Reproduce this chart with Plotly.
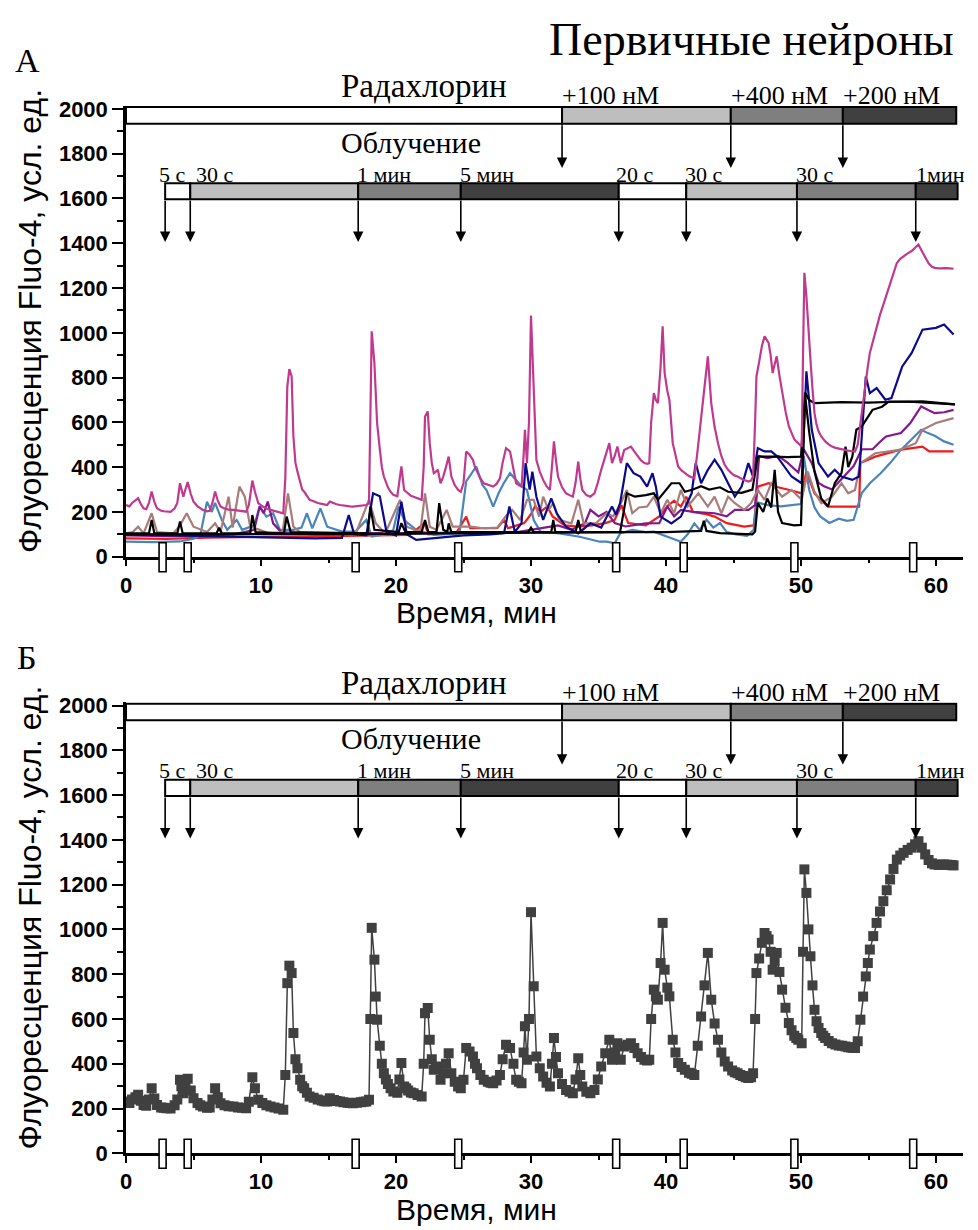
import plotly.graph_objects as go

W, H = 978, 1230

# ---------------- data (minutes, fluorescence units) ----------------
# magenta cell (shown in both panels), read as (time, value) pairs
MAG_POINTS = [
    (0.0, 231), (0.25, 225), (0.45, 240), (0.7, 250), (0.9, 261), (1.1, 235), (1.3, 216), (1.5, 212),
    (1.7, 240), (1.9, 291), (2.1, 245), (2.3, 216), (2.6, 205), (2.8, 203), (3.0, 201), (3.3, 200),
    (3.6, 215), (3.8, 240), (4.0, 328), (4.1, 300), (4.25, 268), (4.4, 300), (4.57, 333), (4.8, 280),
    (5.0, 246), (5.3, 225), (5.5, 215), (5.7, 209), (6.0, 203), (6.2, 205), (6.4, 240), (6.6, 291),
    (6.8, 250), (7.0, 224), (7.3, 215), (7.6, 210), (7.95, 209), (8.3, 205), (8.6, 203), (8.9, 201),
    (9.1, 230), (9.36, 340), (9.55, 290), (9.8, 239), (10.1, 225), (10.4, 215), (10.7, 209), (11.0, 205),
    (11.3, 200), (11.65, 194), (11.8, 350), (11.95, 760), (12.1, 838), (12.27, 805), (12.4, 537),
    (12.55, 420), (12.7, 380), (12.9, 328), (13.05, 300), (13.2, 290), (13.4, 270), (13.6, 254),
    (13.9, 248), (14.2, 240), (14.5, 236), (14.7, 233), (14.9, 231), (15.1, 246), (15.4, 238),
    (15.6, 234), (15.85, 231), (16.1, 228), (16.4, 226), (16.6, 225), (16.8, 224), (17.1, 226),
    (17.4, 228), (17.6, 230), (17.8, 231), (18.0, 239), (18.1, 600), (18.2, 1007), (18.4, 865),
    (18.5, 700), (18.6, 597), (18.8, 480), (18.95, 400), (19.1, 358), (19.25, 330), (19.4, 310),
    (19.6, 290), (19.8, 276), (20.1, 270), (20.25, 330), (20.4, 403), (20.6, 298), (20.75, 290),
    (20.9, 280), (21.1, 272), (21.3, 268), (21.6, 260), (21.9, 254), (22.05, 400), (22.15, 626),
    (22.35, 649), (22.5, 507), (22.65, 420), (22.8, 373), (22.95, 380), (23.1, 388), (23.3, 328),
    (23.5, 358), (23.7, 400), (23.9, 447), (24.1, 358), (24.35, 320), (24.6, 298), (24.8, 290),
    (25.0, 328), (25.2, 470), (25.45, 455), (25.7, 432), (25.85, 400), (26.0, 380), (26.25, 350),
    (26.5, 328), (26.8, 320), (27.0, 315), (27.2, 313), (27.45, 325), (27.7, 350), (27.9, 420),
    (28.15, 485), (28.45, 470), (28.7, 400), (28.9, 328), (29.1, 320), (29.3, 313), (29.45, 450),
    (29.55, 567), (29.7, 418), (29.85, 600), (30.0, 1077), (30.2, 746), (30.4, 432), (30.65, 380),
    (30.9, 343), (31.15, 315), (31.4, 298), (31.55, 400), (31.7, 515), (31.85, 430), (32.0, 358),
    (32.3, 310), (32.6, 283), (32.85, 275), (33.1, 268), (33.3, 330), (33.5, 425), (33.65, 350),
    (33.8, 298), (34.1, 275), (34.4, 268), (34.7, 283), (34.95, 330), (35.2, 388), (35.5, 447),
    (35.8, 507), (36.0, 418), (36.2, 450), (36.4, 492), (36.65, 418), (36.9, 477), (37.15, 485),
    (37.4, 492), (37.65, 470), (37.9, 447), (38.15, 430), (38.4, 418), (38.6, 415), (38.76, 418),
    (38.9, 600), (39.1, 731), (39.25, 700), (39.4, 686), (39.6, 850), (39.75, 1029), (39.9, 820),
    (40.1, 740), (40.25, 701), (40.5, 507), (40.7, 450), (40.9, 403), (41.15, 385), (41.4, 373),
    (41.7, 360), (41.9, 355), (42.1, 350), (42.35, 480), (42.6, 611), (42.85, 750), (43.1, 895),
    (43.35, 686), (43.6, 580), (43.85, 507), (44.1, 450), (44.35, 410), (44.6, 388), (44.9, 370),
    (45.1, 362), (45.3, 358), (45.5, 350), (45.7, 345), (45.9, 340), (46.1, 336), (46.3, 340),
    (46.45, 358), (46.6, 600), (46.7, 805), (46.9, 870), (47.1, 940), (47.3, 984), (47.45, 970),
    (47.6, 955), (47.75, 900), (47.9, 820), (48.05, 860), (48.2, 895), (48.4, 810), (48.6, 731),
    (48.85, 650), (49.1, 582), (49.3, 550), (49.5, 525), (49.65, 515), (49.8, 507), (50.05, 492),
    (50.15, 900), (50.25, 1268), (50.4, 1163), (50.55, 1000), (50.7, 880), (50.85, 750), (51.0, 641),
    (51.15, 590), (51.3, 560), (51.5, 537), (51.65, 525), (51.8, 515), (52.05, 502), (52.3, 492),
    (52.55, 486), (52.8, 482), (53.05, 480), (53.3, 477), (53.5, 474), (53.7, 472), (53.85, 471),
    (54.0, 470), (54.2, 500), (54.4, 597), (54.6, 700), (54.8, 790), (54.95, 850), (55.1, 910),
    (55.35, 970), (55.6, 1029), (55.85, 1080), (56.1, 1126), (56.35, 1175), (56.6, 1223),
    (56.85, 1270), (57.1, 1312), (57.35, 1330), (57.6, 1342), (57.9, 1355), (58.2, 1365),
    (58.45, 1380), (58.7, 1394), (58.95, 1365), (59.2, 1335), (59.45, 1310), (59.7, 1295),
    (59.9, 1290), (60.2, 1288), (60.4, 1289), (60.6, 1290), (60.8, 1289), (61.0, 1288),
    (61.15, 1287), (61.3, 1286),
]
MAG_T = [p[0] for p in MAG_POINTS]
MAG_V = [p[1] for p in MAG_POINTS]

NAVY_T = [0, 2, 4, 6, 8, 10, 12, 14, 16, 16.5, 16.9, 17.8, 18.3, 18.8, 19.3, 20.0, 20.4, 20.8, 21.5, 23, 25, 27,
          28.0, 28.4, 28.8, 29.3, 29.6, 29.9, 30.1, 30.4, 30.9, 31.5, 31.9, 32.6, 33.5, 34.4, 35.2, 36.0, 36.3,
          36.6, 37.1, 37.6, 38.1, 38.6, 39.0, 39.25, 39.6, 40.4, 41.1, 41.9, 42.2, 42.6, 43.1, 43.6, 44.1, 44.6,
          45.1, 45.6, 46.1, 46.45, 46.8, 47.3, 47.8, 48.2, 48.6, 49.3, 50.05, 50.4, 50.8, 51.3, 52.0, 52.5, 53.0,
          53.8, 54.3, 54.8, 55.1, 55.6, 56.25, 56.7, 57.5, 58.2, 59.0, 60.0, 60.6, 61.3]
NAVY_V = [100, 97, 95, 92, 90, 88, 85, 82, 84, 186, 100, 95, 283, 270, 110, 95, 246, 100, 75, 85, 95, 100,
          105, 224, 110, 150, 418, 300, 380, 268, 164, 261, 194, 134, 104, 149, 130, 224, 187,
          239, 418, 373, 358, 313, 373, 313, 179, 149, 179, 283, 418, 328, 388, 433, 388, 328,
          268, 313, 418, 358, 485, 470, 470, 450, 418, 358, 328, 828, 567, 418, 358, 388, 358,
          343, 358, 805, 731, 753, 701, 708, 850, 910, 1014, 1022, 1037, 992]

BLACK1_T = [0, 5, 10, 15, 20, 25, 30, 33, 36.6, 37.1, 37.7, 38.5, 39.1, 39.4, 40.0, 40.4, 41.0, 41.4, 42.0, 42.6,
            43.2, 44.0, 44.6, 45.6, 46.4, 46.8, 48.0, 49.0, 50.0, 50.3, 50.6, 51.0, 53, 55, 57, 59, 61.4]
BLACK1_V = [100, 100, 100, 100, 102, 105, 107, 108, 110, 283, 268, 275, 283, 254, 300, 328, 328, 290, 300, 315,
            300, 310, 290, 285, 300, 447, 447, 445, 447, 733, 700, 686, 690, 688, 692, 694, 680]

BLACK2_T = [0, 1.7, 1.9, 2.1, 3.8, 4.0, 4.2, 6.7, 6.9, 7.1, 9.2, 9.36, 9.6, 11.7, 11.9, 12.2, 17.9, 18.1, 18.4,
            20.2, 20.4, 20.7, 21.9, 22.15, 22.4, 23.0, 23.2, 23.5, 23.8, 23.9, 24.1, 29.8, 30.0, 30.2, 31.5,
            31.65, 31.8, 33.3, 33.5, 33.7, 36, 40, 42.6, 42.8, 43.0, 44, 46.4, 46.6, 46.8, 47.2, 47.5, 47.8,
            48.05, 48.3, 48.6, 49.5, 50.0, 50.3, 50.6, 51.0, 51.5, 52.0, 52.5, 53.0, 53.3, 53.5, 53.8, 54.1,
            54.5, 55.3, 56.0, 56.5, 58, 60, 61.4]
BLACK2_V = [104, 104, 164, 104, 104, 157, 104, 104, 130, 104, 104, 186, 110, 104, 179, 110, 104, 224, 120,
            110, 150, 110, 110, 164, 110, 110, 239, 120, 110, 149, 110, 110, 130, 110, 110,
            164, 110, 110, 164, 110, 110, 110, 115, 160, 115, 105, 100, 112, 240, 200, 260, 220,
            388, 200, 150, 140, 142, 723, 560, 380, 260, 224, 328, 373, 492, 400, 447, 567,
            582, 656, 670, 693, 692, 685, 680]

STEEL_T = [0, 2, 4, 5.0, 5.5, 6.0, 6.35, 6.6, 7.1, 7.5, 8.2, 8.6, 9.5, 9.9, 10.4, 10.9, 11.4, 12.4, 13.0, 13.4,
           13.8, 14.4, 14.9, 16.0, 17.0, 17.8, 18.2, 19.3, 19.8, 20.2, 20.6, 21.5, 22.8, 24.7, 25.2, 25.6,
           25.95, 26.4, 26.7, 27.2, 27.6, 28.0, 28.45, 29.2, 29.7, 30.2, 30.7, 32.1, 33.6, 35.1, 35.6, 36.2,
           36.6, 37.5, 38.5, 39.1, 40.1, 41.1, 41.6, 42.1, 42.5, 43.0, 43.5, 44.0, 44.5, 45.2, 46.0, 46.5,
           46.7, 47.5, 48.5, 49.5, 50.0, 50.2, 50.6, 51.0, 51.4, 52.1, 52.8, 53.4, 53.9, 54.5, 55.1, 55.9,
           56.6, 57.4, 58.4, 58.9, 59.4, 59.9, 60.6, 61.3]
STEEL_V = [67, 65, 68, 80, 95, 246, 200, 240, 164, 120, 164, 120, 140, 224, 179, 194, 120, 120, 130, 194,
           127, 216, 134, 112, 112, 164, 90, 100, 120, 224, 164, 120, 97, 104, 336, 370,
           403, 320, 298, 224, 283, 330, 373, 321, 298, 164, 112, 104, 89, 67, 67, 60,
           104, 120, 110, 112, 89, 67, 100, 149, 120, 165, 130, 150, 110, 100, 93, 120,
           244, 230, 225, 230, 235, 450, 300, 220, 181, 151, 170, 160, 165, 284, 328, 373,
           418, 477, 537, 567, 552, 540, 515, 500]

RED_T = [0, 3, 6, 9, 12, 15, 18, 21, 22.1, 22.4, 24.5, 25.2, 25.5, 27.5, 28.0, 28.3, 29.5, 30.0, 30.3, 30.7,
         31.2, 31.6, 32.5, 33.5, 34.5, 35.5, 36.2, 36.7, 37.2, 38.5, 39.5, 40.1, 40.6, 41.1, 41.5, 42.0, 43.0,
         43.6, 44.5, 45.8, 46.5, 46.8, 47.6, 48.3, 49.0, 50.05, 50.4, 51.0, 52.0, 53.0, 54.3, 54.4, 55.5,
         57.3, 59.0, 59.5, 61.3]
RED_V = [82, 80, 85, 86, 90, 92, 95, 97, 149, 100, 110, 179, 127, 127, 164, 127, 150, 190, 225, 201,
         224, 180, 140, 134, 140, 150, 164, 230, 150, 140, 180, 225, 250, 224, 268, 200, 190,
         179, 150, 134, 140, 313, 328, 310, 300, 283, 380, 283, 224, 224, 224, 418, 447,
         477, 492, 470, 470]

PURPLE_T = [0, 3, 6, 8, 9.5, 9.9, 10.2, 10.5, 10.9, 11.5, 14, 18, 22, 26, 29, 31, 32, 33, 34.0, 34.4, 35.0,
            35.6, 36.2, 37, 38.5, 39.5, 40.1, 40.6, 41.1, 42, 43.6, 44.5, 45.1, 46.1, 46.6, 46.9, 47.5, 48.3,
            49.0, 49.8, 50.2, 50.8, 51.3, 51.7, 52.3, 52.9, 53.5, 53.9, 54.5, 55.3, 55.8, 56.3, 57.4, 58.1,
            58.9, 59.9, 60.6, 61.3]
PURPLE_V = [95, 92, 95, 100, 120, 224, 194, 246, 149, 110, 100, 105, 105, 108, 110, 130, 140, 120, 150, 209, 180,
            200, 150, 135, 149, 150, 224, 180, 209, 200, 194, 180, 209, 209, 230, 450, 440, 450,
            420, 376, 480, 418, 330, 315, 300, 340, 380, 405, 480, 480, 510, 537, 552, 597,
            671, 641, 645, 656]

BROWN_T = [0, 0.5, 0.9, 1.3, 1.9, 2.3, 3.5, 4.0, 4.5, 5.0, 6.0, 6.6, 7.0, 7.6, 7.9, 8.4, 8.8, 9.2, 9.9, 10.6,
           11.6, 12.0, 12.4, 13.0, 15.0, 17.0, 18.0, 18.5, 19.2, 20.3, 20.8, 21.8, 22.15, 22.5, 23.0, 23.75,
           24.2, 25.5, 26.5, 27.5, 28.2, 28.6, 29.2, 29.7, 30.2, 30.6, 30.9, 31.3, 31.65, 32.1, 33.0, 33.5,
           33.9, 34.8, 35.6, 36.1, 36.65, 37.1, 37.5, 38.0, 38.6, 39.1, 39.6, 40.1, 40.6, 41.1, 41.6, 42.4,
           43.1, 43.6, 44.1, 44.6, 45.1, 45.8, 46.3, 46.8, 47.3, 47.8, 48.6, 49.3, 50.05, 50.5, 51.0, 51.5,
           52.3, 53.0, 53.5, 54.0, 54.4, 55.5, 57.3, 58.5, 59.0, 60.0, 61.3]
BROWN_V = [104, 110, 134, 104, 194, 110, 104, 140, 194, 134, 110, 149, 110, 268, 130, 313, 268, 134, 120, 104,
           110, 283, 134, 104, 104, 100, 254, 149, 104, 254, 134, 110, 283, 134, 120, 209,
           134, 134, 127, 130, 186, 209, 164, 254, 254, 179, 268, 209, 239, 164, 149, 254,
           149, 149, 194, 180, 239, 298, 194, 220, 224, 268, 194, 254, 194, 298, 224, 283,
           224, 268, 194, 268, 239, 209, 239, 298, 254, 328, 268, 298, 254, 380, 290, 239,
           268, 328, 283, 298, 418, 462, 477, 507, 567, 597, 619]

# protocol: Radachlorin additions and irradiation episodes (minutes)
RAD_T = [0.0, 32.3, 44.8, 53.1, 61.5]
RAD_LABELS = ["+100 нМ", "+400 нМ", "+200 нМ"]
IRR_T = [2.9, 4.76, 17.2, 24.8, 36.5, 41.5, 49.7, 58.5, 61.6]
IRR_LABELS = ["5 с", "30 с", "1 мин", "5 мин", "20 с", "30 с", "30 с", "1мин"]

X_TICKS = [0, 10, 20, 30, 40, 50, 60]
Y_TICKS = [0, 200, 400, 600, 800, 1000, 1200, 1400, 1600, 1800, 2000]

# ---------------- styles ----------------
RAD_FILL = ["#FFFFFF", "#BEBEBE", "#7F7F7F", "#404040"]
IRR_FILL = ["#FFFFFF", "#BEBEBE", "#7F7F7F", "#404040", "#FFFFFF", "#BEBEBE", "#7F7F7F", "#404040"]
IRR_LABEL_SHIFT = [-8, 4, -3, -3, -5, -3, -3, -2]   # px, label placement tweak
SERIF = "Liberation Serif"
SANS = "Liberation Sans"

RAD_BAR = (1934, 2008)
IRR_BAR = (1596, 1668)
RAD_ARROW_TIP = 1736
IRR_ARROW_TIP = 1406

PXU = 0.2239           # px per unit
Y0_A, Y0_B = 556.7, 1153.3
YMAX = 2015
X_L, X_R = 126, 963
PX_PER_MIN = (X_R - X_L) / 62.0


def px(x, y):
    return x / W, 1 - y / H


fig = go.Figure()

series_A = [
    (RED_T, RED_V, "#F21B1B"),
    (STEEL_T, STEEL_V, "#4A84BA"),
    (PURPLE_T, PURPLE_V, "#82188C"),
    (BROWN_T, BROWN_V, "#A87C7A"),
    (NAVY_T, NAVY_V, "#0A0A8C"),
    (BLACK1_T, BLACK1_V, "#000000"),
    (BLACK2_T, BLACK2_V, "#000000"),
    (MAG_T, MAG_V, "#C0398F"),
]
for tt, vv, col in series_A:
    fig.add_trace(go.Scatter(x=tt, y=vv, mode="lines", line=dict(color=col, width=2.2),
                             xaxis="x", yaxis="y", showlegend=False, hoverinfo="skip"))

fig.add_trace(go.Scatter(x=MAG_T, y=MAG_V, mode="lines+markers",
                         line=dict(color="#404040", width=1.5),
                         marker=dict(symbol="square", size=10, color="#404040"),
                         xaxis="x2", yaxis="y2", showlegend=False, hoverinfo="skip"))


def xaxis_cfg(anchor):
    return dict(domain=[X_L / W, X_R / W], range=[0, 62], anchor=anchor,
                showline=True, linewidth=2.5, linecolor="black",
                ticks="outside", ticklen=7, tickwidth=2, tickcolor="black",
                tickvals=X_TICKS, ticktext=[str(v) for v in X_TICKS],
                minor=dict(tickvals=[5, 15, 25, 35, 45, 55], ticks="outside", ticklen=4,
                           tickwidth=2, tickcolor="black"),
                showgrid=False, zeroline=False, automargin=False,
                tickfont=dict(family=SANS, size=22, color="black", weight="bold"))


def yaxis_cfg(anchor, y0):
    top = y0 - YMAX * PXU
    return dict(domain=[1 - y0 / H, 1 - top / H], range=[0, YMAX], anchor=anchor,
                showline=True, linewidth=2.5, linecolor="black",
                ticks="outside", ticklen=11, tickwidth=2, tickcolor="black",
                tickvals=Y_TICKS, ticktext=[str(v) for v in Y_TICKS],
                minor=dict(dtick=100, tick0=0, ticks="outside", ticklen=6, tickwidth=2,
                           tickcolor="black"),
                showgrid=False, zeroline=False, automargin=False,
                tickfont=dict(family=SANS, size=22, color="black", weight="bold"))


shapes = []
annotations = []


def add_text(xp, yp, s, size, family, xanchor="center", yanchor="middle", angle=0):
    x, y = px(xp, yp)
    annotations.append(dict(x=x, y=y, xref="paper", yref="paper", text=s, showarrow=False,
                            xanchor=xanchor, yanchor=yanchor, textangle=angle,
                            font=dict(family=family, size=size, color="black")))


def overlays(xr, yr, y0, dy):
    # Radachlorin bar
    for i in range(len(RAD_T) - 1):
        shapes.append(dict(type="rect", xref=xr, yref=yr, x0=RAD_T[i], x1=RAD_T[i + 1],
                           y0=RAD_BAR[0], y1=RAD_BAR[1], fillcolor=RAD_FILL[i],
                           line=dict(color="black", width=2), layer="above"))
    # irradiation bar
    for i in range(len(IRR_T) - 1):
        shapes.append(dict(type="rect", xref=xr, yref=yr, x0=IRR_T[i], x1=IRR_T[i + 1],
                           y0=IRR_BAR[0], y1=IRR_BAR[1], fillcolor=IRR_FILL[i],
                           line=dict(color="black", width=2), layer="above"))
    # arrows
    for t in RAD_T[1:-1]:
        annotations.append(dict(x=t, y=RAD_ARROW_TIP, xref=xr, yref=yr, ax=t, ay=RAD_BAR[0],
                                axref=xr, ayref=yr, text="", showarrow=True, arrowhead=2,
                                arrowsize=1.3, arrowwidth=1.6, arrowcolor="black", standoff=0))
    for t in IRR_T[:-1]:
        annotations.append(dict(x=t, y=IRR_ARROW_TIP, xref=xr, yref=yr, ax=t, ay=IRR_BAR[0],
                                axref=xr, ayref=yr, text="", showarrow=True, arrowhead=2,
                                arrowsize=1.3, arrowwidth=1.6, arrowcolor="black", standoff=0))
    # irradiation markers on the time axis
    ya0, ya1 = 1 - (y0 + 15) / H, 1 - (y0 - 14) / H
    for t in IRR_T[:-1]:
        shapes.append(dict(type="rect", xref=xr, yref="paper", x0=t - 0.45, x1=t + 0.07,
                           y0=ya0, y1=ya1, fillcolor="white",
                           line=dict(color="black", width=1.6), layer="above"))
    # labels
    add_text(424, 86 + dy, "Радахлорин", 33, SERIF)
    add_text(411, 142 + dy, "Облучение", 30, SERIF)
    for t, lab in zip(RAD_T[1:-1], RAD_LABELS):
        xp = X_L + t * PX_PER_MIN - 2
        add_text(xp, 96 + dy, lab, 26, SERIF, xanchor="left")
    for t, lab, sh in zip(IRR_T[:-1], IRR_LABELS, IRR_LABEL_SHIFT):
        xp = X_L + t * PX_PER_MIN + sh
        add_text(xp, 174 + dy, lab, 22, SERIF, xanchor="left")
    add_text(30, 321 + dy, "Флуоресценция Fluo-4, усл. ед.", 32, SANS, angle=-90)
    add_text(476, 613 + dy, "Время, мин", 30, SANS)


overlays("x", "y", Y0_A, 0)
overlays("x2", "y2", Y0_B, Y0_B - Y0_A)
add_text(751, 40, "Первичные нейроны", 46, SERIF)
add_text(27, 60, "А", 34, SERIF)
add_text(27, 657, "Б", 34, SERIF)

fig.update_layout(
    width=W, height=H, margin=dict(l=0, r=0, t=0, b=0),
    paper_bgcolor="white", plot_bgcolor="white", template="none",
    xaxis=xaxis_cfg("y"), yaxis=yaxis_cfg("x", Y0_A),
    xaxis2=xaxis_cfg("y2"), yaxis2=yaxis_cfg("x2", Y0_B),
    shapes=shapes, annotations=annotations, showlegend=False,
)

fig.write_html("out.html")
